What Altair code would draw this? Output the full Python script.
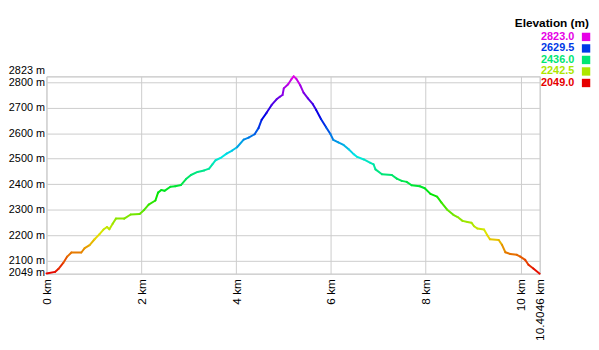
import altair as alt
import pandas as pd

dist_km = [0, 0.18, 0.25, 0.354, 0.4375, 0.527, 0.735, 0.806, 0.91, 1.015,
           1.119, 1.202, 1.277, 1.327, 1.396, 1.465, 1.64, 1.777, 1.965, 2.06,
           2.156, 2.298, 2.354, 2.423, 2.49, 2.615, 2.715, 2.84, 2.944, 3.048,
           3.1875, 3.327, 3.431, 3.5, 3.569, 3.673, 3.8, 3.917, 4.02, 4.16,
           4.265, 4.39, 4.473, 4.54, 4.646, 4.75, 4.854, 4.923, 4.98, 5.006,
           5.098, 5.167, 5.215, 5.27, 5.354, 5.423, 5.515, 5.619, 5.6875, 5.79,
           5.896, 5.99, 6.05, 6.156, 6.267, 6.375, 6.48, 6.556, 6.694, 6.833,
           6.9, 6.94, 7.077, 7.285, 7.39, 7.494, 7.598, 7.702, 7.875, 7.98,
           8.1, 8.24, 8.333, 8.448, 8.583, 8.673, 8.777, 8.88, 8.965, 9.02,
           9.09, 9.23, 9.3, 9.354, 9.54, 9.61, 9.68, 9.785, 9.923, 9.994,
           10.098, 10.167, 10.27, 10.4046]
elev_m = [2050, 2056, 2067, 2091, 2116, 2132, 2132, 2149, 2161, 2184,
          2204, 2222, 2232, 2223, 2245, 2265, 2265, 2281, 2283, 2299,
          2320, 2336, 2367, 2377, 2374, 2390, 2392, 2397, 2420, 2436,
          2448, 2454, 2461, 2478, 2494, 2503, 2520, 2532, 2545, 2575,
          2583, 2596, 2620, 2653, 2681, 2711, 2733, 2743, 2750, 2776,
          2792, 2812, 2823, 2814, 2788, 2759, 2737, 2714, 2692, 2656,
          2624, 2597, 2574, 2564, 2554, 2537, 2518, 2507, 2497, 2484,
          2478, 2458, 2439, 2436, 2422, 2413, 2409, 2396, 2392, 2384,
          2362, 2351, 2328, 2301, 2280, 2271, 2256, 2252, 2249, 2235,
          2226, 2222, 2200, 2184, 2181, 2162, 2133, 2126, 2123, 2116,
          2103, 2084, 2069, 2049]

x_ticks = [0, 2, 4, 6, 8, 10, 10.4046]
y_ticks = [2049, 2100, 2200, 2300, 2400, 2500, 2600, 2700, 2800, 2823]
legend_values = [2823.0, 2629.5, 2436.0, 2242.5, 2049.0]
legend_title = "Elevation (m)"

ymin, ymax = 2049, 2823
hue_stops = [ymin + (ymax - ymin) * k / 5 for k in range(6)]
hue_colors = ["#e60000", "#e6e600", "#00e600", "#00e6e6", "#0000e6", "#e600e6"]
color_scale = alt.Scale(domain=hue_stops, range=hue_colors, interpolate="rgb")

seg = pd.DataFrame({
    "x": dist_km[:-1], "x2": dist_km[1:],
    "y": elev_m[:-1], "y2": elev_m[1:],
})
seg["c"] = (seg["y"] + seg["y2"]) / 2

FONT = "Liberation Sans"

line = alt.Chart(seg).mark_rule(strokeWidth=2, strokeCap="round").encode(
    x=alt.X("x:Q", scale=alt.Scale(domain=[0, 10.4046], nice=False, zero=False),
            axis=alt.Axis(values=x_ticks, labelExpr="datum.value + ' km'",
                          labelAngle=270, labelPadding=5, labelFlush=False,
                          labelOverlap=False, ticks=False, domain=False,
                          gridColor="#cccccc", labelFont=FONT, labelFontSize=12,
                          labelColor="#000000", title=None)),
    x2="x2:Q",
    y=alt.Y("y:Q", scale=alt.Scale(domain=[ymin, ymax], nice=False, zero=False),
            axis=alt.Axis(values=y_ticks, labelExpr="datum.value + ' m'",
                          labelPadding=2, labelFlush=False, labelOverlap=False,
                          labelOffset={"condition": [
                              {"test": "datum.value > 2810", "value": -6},
                              {"test": "datum.value < 2060", "value": -1}],
                              "value": 0},
                          ticks=False, domain=False, gridColor="#cccccc",
                          labelFont=FONT, labelFontSize=11, labelColor="#000000",
                          title=None)),
    y2="y2:Q",
    color=alt.Color("c:Q", scale=color_scale, legend=None),
)

leg = pd.DataFrame({"val": legend_values,
                    "label": [f"{v:.1f}" for v in legend_values]})
leg_y = alt.Y("val:Q", scale=alt.Scale(domain=[ymin, ymax], range=[6.7, -40]), axis=None)

leg_text = alt.Chart(leg).mark_text(align="right", baseline="middle", font=FONT,
                                    fontSize=11, fontWeight="bold").encode(
    x=alt.value(535), y=leg_y, text="label:N",
    color=alt.Color("val:Q", scale=color_scale, legend=None),
)
leg_sq = alt.Chart(leg).mark_square(size=72, opacity=1).encode(
    x=alt.value(547), y=leg_y,
    color=alt.Color("val:Q", scale=color_scale, legend=None),
)
leg_title = alt.Chart(pd.DataFrame({"t": [legend_title]})).mark_text(
    align="right", baseline="middle", font=FONT, fontSize=12, fontWeight="bold",
    color="#000000").encode(x=alt.value(550), y=alt.value(-54), text="t:N")

chart = alt.layer(line, leg_text, leg_sq, leg_title).resolve_scale(
    y="independent"
).properties(
    width=500, height=200,
    padding={"left": 39, "top": 67, "right": 52, "bottom": 70},
    autosize=alt.AutoSizeParams(type="none"),
).configure_view(stroke="#cccccc")

chart.save("out.html", embed_options={"renderer": "svg", "actions": False})
